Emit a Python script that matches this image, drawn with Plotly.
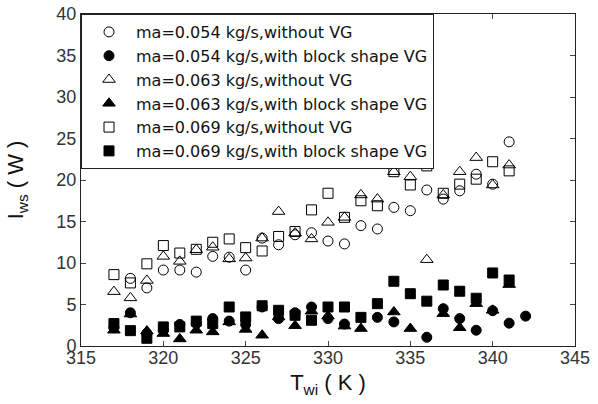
import plotly.graph_objects as go

T_a = [318, 319, 320, 321, 322, 323, 324, 325, 326, 327, 328, 329, 330, 331, 332, 333, 334, 335, 336, 337, 338, 339, 340, 341]
c054_noVG = [8.15, 7.0, 9.15, 9.15, 8.9, 10.8, 10.7, 9.15, 13.0, 12.2, 13.4, 13.65, 12.65, 12.3, 14.5, 14.1, 16.7, 16.3, 18.8, 17.7, 18.7, 20.7, 19.5, 24.6]
T_b = [317, 318, 319, 320, 321, 322, 323, 324, 325, 326, 327, 328, 329, 330, 331, 333, 334, 336, 337, 338, 339, 340, 341, 342]
c054_VG = [2.2, 4.0, 1.5, 1.9, 2.6, 2.7, 3.3, 3.0, 2.6, 4.7, 3.3, 4.0, 4.7, 3.3, 2.65, 3.45, 2.9, 1.05, 4.5, 3.3, 1.9, 4.25, 2.75, 3.6]
T_c = [317, 318, 319, 320, 321, 322, 323, 324, 325, 326, 327, 328, 329, 330, 331, 332, 333, 334, 335, 336, 337, 338, 339, 340, 341]
c063_noVG = [6.55, 5.8, 7.9, 10.8, 10.2, 11.6, 11.9, 10.5, 10.6, 13.0, 16.2, 13.6, 12.9, 14.9, 15.5, 18.2, 17.7, 21.0, 20.4, 10.4, 18.2, 21.0, 22.7, 19.4, 21.8]
T_d = [317, 318, 319, 320, 321, 322, 323, 324, 325, 326, 327, 328, 329, 330, 331, 332, 334, 335, 337, 338, 339, 340, 341]
c063_VG = [1.9, 3.85, 1.8, 1.5, 0.85, 1.9, 1.7, 2.9, 2.0, 1.3, 3.5, 2.45, 4.2, 3.6, 2.4, 2.1, 4.1, 2.1, 3.9, 2.2, 5.1, 4.3, 7.4]
T_e = [317, 318, 319, 320, 321, 322, 323, 324, 325, 326, 327, 328, 329, 330, 331, 332, 333, 334, 335, 336, 337, 338, 339, 340, 341]
c069_noVG = [8.6, 7.6, 9.9, 12.1, 11.2, 11.65, 12.5, 12.9, 11.85, 11.45, 13.2, 13.8, 16.4, 18.4, 15.5, 17.5, 16.9, 21.0, 19.4, 21.7, 18.4, 19.5, 20.1, 22.2, 21.1]
c069_VG = [2.7, 1.85, 0.93, 2.3, 2.3, 3.0, 2.7, 4.7, 3.5, 4.85, 4.3, 3.7, 3.1, 4.7, 4.7, 3.45, 5.1, 7.8, 6.3, 5.4, 7.35, 6.6, 5.75, 8.8, 7.95]

x_ticks = [315, 320, 325, 330, 335, 340, 345]
y_ticks = [0, 5, 10, 15, 20, 25, 30, 35, 40]

series = [
    ("ma=0.054 kg/s,without VG", T_a, c054_noVG, "circle-open", 10),
    ("ma=0.054 kg/s,with block shape VG", T_b, c054_VG, "circle", 10),
    ("ma=0.063 kg/s,without VG", T_c, c063_noVG, "triangle-up-open", 11),
    ("ma=0.063 kg/s,with block shape VG", T_d, c063_VG, "triangle-up", 11),
    ("ma=0.069 kg/s,without VG", T_e, c069_noVG, "square-open", 10),
    ("ma=0.069 kg/s,with block shape VG", T_e, c069_VG, "square", 10),
]

fig = go.Figure()
for name, xs, ys, sym, sz in series:
    fig.add_trace(go.Scatter(
        x=xs, y=ys, mode="markers", name=name,
        marker=dict(symbol=sym, size=sz, color="black", line=dict(color="black", width=1)),
    ))

font = "Liberation Sans, Arial, sans-serif"
fig.update_layout(
    width=598, height=404,
    margin=dict(l=81, r=23, t=14, b=58),
    paper_bgcolor="white", plot_bgcolor="white",
    font=dict(family=font, size=16, color="#222"),
    showlegend=True,
    legend=dict(x=0, y=1, xanchor="left", yanchor="top",
                bordercolor="#222", borderwidth=1, bgcolor="white",
                font=dict(family="DejaVu Sans, Liberation Sans, sans-serif", size=16, color="#111"),
                tracegroupgap=0, itemwidth=44),
    xaxis=dict(range=[315, 345], tickvals=x_ticks, ticks="inside", ticklen=5,
               showline=True, linecolor="#222", linewidth=1, mirror="ticks",
               showgrid=False, zeroline=False, automargin=False,
               tickfont=dict(size=18, color="#333"), ticklabelstandoff=-5,
               title=dict(text="T<sub>wi</sub> ( K )", font=dict(size=22, color="#111"), standoff=8)),
    yaxis=dict(range=[0, 40], tickvals=y_ticks, ticks="inside", ticklen=5,
               showline=True, linecolor="#222", linewidth=1, mirror="ticks",
               showgrid=False, zeroline=False, automargin=False,
               tickfont=dict(size=18, color="#333"),
               title=dict(text="I<sub>ws</sub> ( W )", font=dict(size=22, color="#111"), standoff=26)),
)

# remove the page's default body margin so the figure sits at the window's corner
fig.write_html("out.html",
               config={"displayModeBar": False},
               post_script="document.body.style.margin='0';document.body.style.overflow='hidden';")
